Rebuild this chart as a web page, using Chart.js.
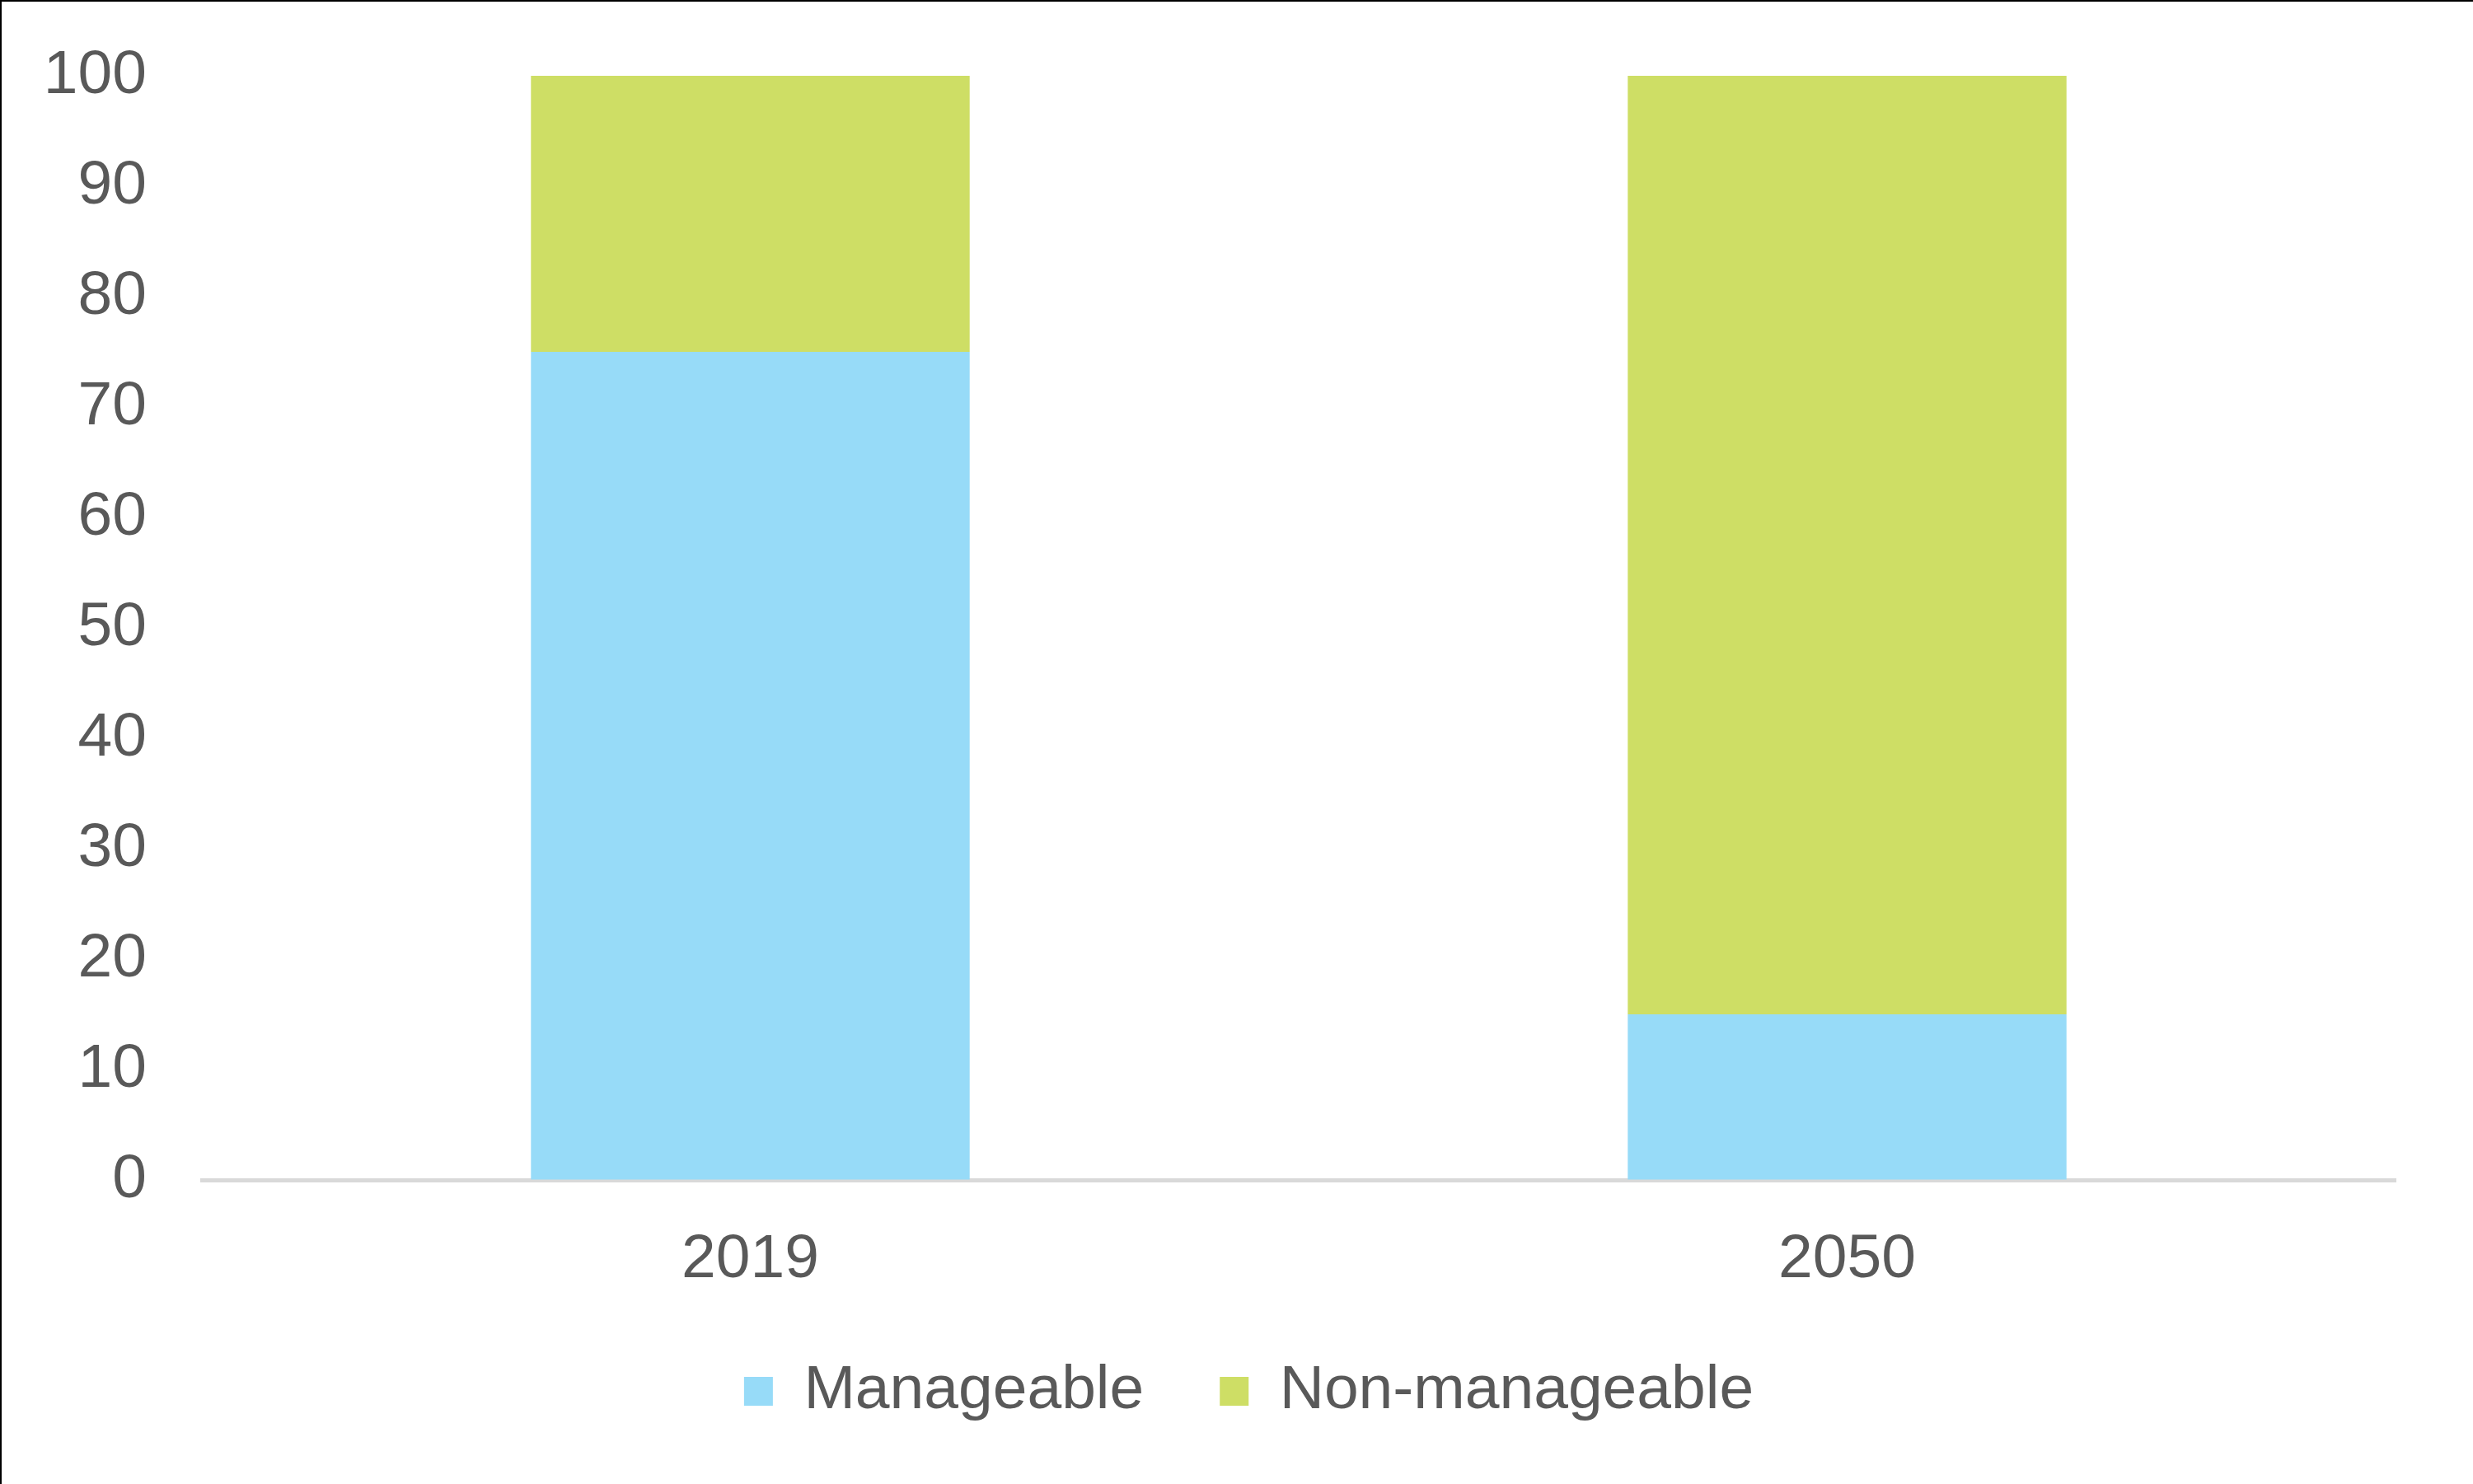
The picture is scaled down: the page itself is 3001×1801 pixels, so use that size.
<!DOCTYPE html>
<html>
<head>
<meta charset="utf-8">
<script src="https://cdn.jsdelivr.net/npm/chart.js@4"></script>
<style>
    body { margin: 0; background: #fff; }
    #wrap { position: relative; width: 3001px; height: 1801px; }
    #frame {
        position: absolute; left: 0; top: 0; right: 0; bottom: 0;
        border-left: 2px solid #000; border-top: 2px solid #000;
        pointer-events: none;
    }
</style>
</head>
<body>
<div id="wrap">
    <canvas id="myChart" width="3001" height="1801"></canvas>
    <div id="frame"></div>
</div>
<script>
// Data
const years = ["2019", "2050"];
const manageable = [75, 15];
const nonManageable = [25, 85];
const yTicks = [0, 10, 20, 30, 40, 50, 60, 70, 80, 90, 100];

const textColor = "#595959";
const font = { family: "'Liberation Sans', Arial, sans-serif", size: 75 };

const datasets = [
    {
        label: "Manageable",
        data: manageable,
        backgroundColor: "#97DBF8",
        borderWidth: 0,
    },
    {
        label: "Non-manageable",
        data: nonManageable,
        backgroundColor: "#CEDE65",
        borderWidth: 0,
    },
];

// Nudge the legend to where it sits in the original (centred on the page, a bit higher)
const legendShift = {
    id: "legendShift",
    afterLayout: (c) => {
        const legend = c.legend;
        if (!legend) return;
        legend.left += 62;
        legend.right += 62;
        legend.top -= 65;
        legend.bottom -= 65;
    },
};

const config = {
    type: "bar",
    data: { labels: years, datasets },
    options: {
        responsive: false,
        devicePixelRatio: 1,
        animation: false,
        categoryPercentage: 1,
        barPercentage: 0.4,
        layout: { padding: { top: 0, right: 94, bottom: 0, left: 0 } },
        plugins: {
            legend: {
                position: "bottom",
                labels: {
                    color: textColor,
                    font: font,
                    boxWidth: 35,
                    boxHeight: 35,
                    padding: 92,
                },
            },
            tooltip: { enabled: false },
        },
        scales: {
            x: {
                stacked: true,
                grid: { display: false, drawTicks: false },
                border: { color: "#D9D9D9", width: 5 },
                ticks: { color: textColor, font: font, padding: 52 },
                afterFit: (scale) => { scale.height = 192; },
            },
            y: {
                stacked: true,
                min: 0,
                max: 100,
                grid: {
                    display: true,
                    drawOnChartArea: false,
                    drawTicks: true,
                    tickLength: 20,
                    color: "rgba(0,0,0,0)",
                },
                border: { display: false },
                afterBuildTicks: (scale) => {
                    scale.ticks = yTicks.map((v) => ({ value: v }));
                },
                ticks: { color: textColor, font: font, padding: 47 },
                afterFit: (scale) => { scale.width = 245; },
            },
        },
    },
    plugins: [legendShift],
};

const chart = document.querySelector("#myChart");
const myChart = new Chart(chart, config);
</script>
</body>
</html>
